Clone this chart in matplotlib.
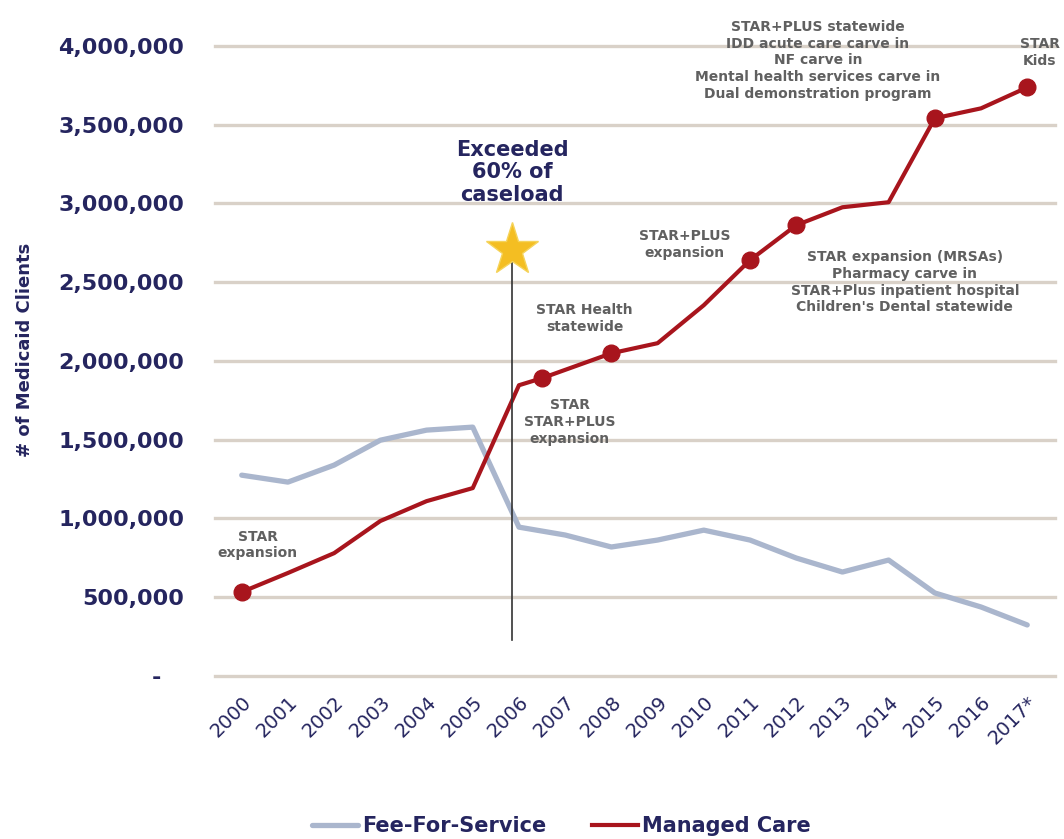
import matplotlib.pyplot as plt
from matplotlib.ticker import FuncFormatter

# data
years = list(range(2000, 2018))
year_labels = [str(y) for y in range(2000, 2017)] + ["2017*"]

ffs_values = [1275000, 1231000, 1339000, 1497000, 1561000, 1580000, 945000,
              895000, 819000, 863000, 926000, 863000, 749000, 660000,
              736000, 527000, 438000, 324000]

mc_x = [2000, 2001, 2002, 2003, 2004, 2005, 2006, 2006.5, 2008, 2009,
        2010, 2011, 2012, 2013, 2014, 2015, 2016, 2017]
mc_values = [533000, 654000, 780000, 984000, 1110000, 1193000, 1846000,
             1891000, 2049000, 2113000, 2354000, 2640000, 2862000,
             2976000, 3008000, 3541000, 3604000, 3737000]
mc_marked = [2000, 2006.5, 2008, 2011, 2012, 2015, 2017]

yticks = [0, 500000, 1000000, 1500000, 2000000, 2500000, 3000000, 3500000, 4000000]

# milestone text: (x, y, text)
notes = [
    (2000.35, 831000, "STAR\nexpansion"),
    (2007.1, 1612000, "STAR\nSTAR+PLUS\nexpansion"),
    (2007.42, 2271000, "STAR Health\nstatewide"),
    (2009.59, 2741000, "STAR+PLUS\nexpansion"),
    (2014.35, 2500000, "STAR expansion (MRSAs)\nPharmacy carve in\n"
                       "STAR+Plus inpatient hospital\nChildren's Dental statewide"),
    (2012.47, 3909000, "STAR+PLUS statewide\nIDD acute care carve in\nNF carve in\n"
                       "Mental health services carve in\nDual demonstration program"),
    (2017.27, 3959000, "STAR\nKids"),
]
star_x, star_y = 2005.85, 2703000
vline_bottom = 228000
callout_y = 3198000

navy = "#25255f"
grey = "#606060"
red = "#a8151d"
blue = "#aab6cd"

plt.rcParams['font.family'] = ['DejaVu Sans']

fig = plt.figure(figsize=(10.64, 8.39), dpi=100)
ax = fig.add_axes([0.202, 0.1943, 0.7895, 0.7509])

ax.set_xlim(1999.42, 2017.6)
ax.set_ylim(0, 4000000)

for v in yticks:
    ax.axhline(v, color="#d9d1c8", lw=2.4, zorder=0, clip_on=False)

ax.plot(years, ffs_values, color=blue, lw=3.8, solid_joinstyle='round',
        solid_capstyle='round', label="Fee-For-Service", zorder=2)
ax.plot(mc_x, mc_values, color=red, lw=3.0, solid_joinstyle='round',
        label="Managed Care", zorder=3)
mk_y = [mc_values[mc_x.index(x)] for x in mc_marked]
ax.plot(mc_marked, mk_y, 'o', color=red, ms=12, zorder=4)

# 60% marker
ax.plot([star_x, star_x], [vline_bottom, star_y], color="#333333", lw=1.2, zorder=3)
ax.plot(star_x, star_y, marker='*', color="#f4be22", ms=40, mec="#f5d35a",
        mew=1, zorder=5)
ax.text(star_x, callout_y, "Exceeded\n60% of\ncaseload", ha='center', va='center',
        fontsize=15, fontweight='bold', color=navy, linespacing=1.15)

for x, y, t in notes:
    ax.text(x, y, t, ha='center', va='center', fontsize=10, fontweight='bold',
            color=grey, linespacing=1.25, zorder=6)

for s in ax.spines.values():
    s.set_visible(False)

ax.set_yticks(yticks)
ax.yaxis.set_major_formatter(FuncFormatter(lambda v, p: "-   " if v == 0 else f"{int(v):,}"))
ax.tick_params(axis='y', length=0, pad=22, labelsize=16, labelcolor=navy)
for lb in ax.get_yticklabels():
    lb.set_fontweight('bold')

ax.set_xticks(years)
ax.set_xticklabels(year_labels, rotation=45, ha='right', va='top',
                   rotation_mode='anchor', fontsize=14, color=navy)
ax.tick_params(axis='x', length=0, pad=12)

ax.set_ylabel("# of Medicaid Clients", fontsize=13, fontweight='bold', color=navy)
ax.yaxis.set_label_coords(-0.215, 0.517)

leg = fig.legend(loc='center', bbox_to_anchor=(0.528, 0.0155), ncol=2, frameon=False,
                 handlelength=2.2, handletextpad=0.2, columnspacing=2.2,
                 prop={'size': 15, 'weight': 'bold'})
for t in leg.get_texts():
    t.set_color(navy)

fig.savefig("out.png", dpi=100, facecolor='white')
